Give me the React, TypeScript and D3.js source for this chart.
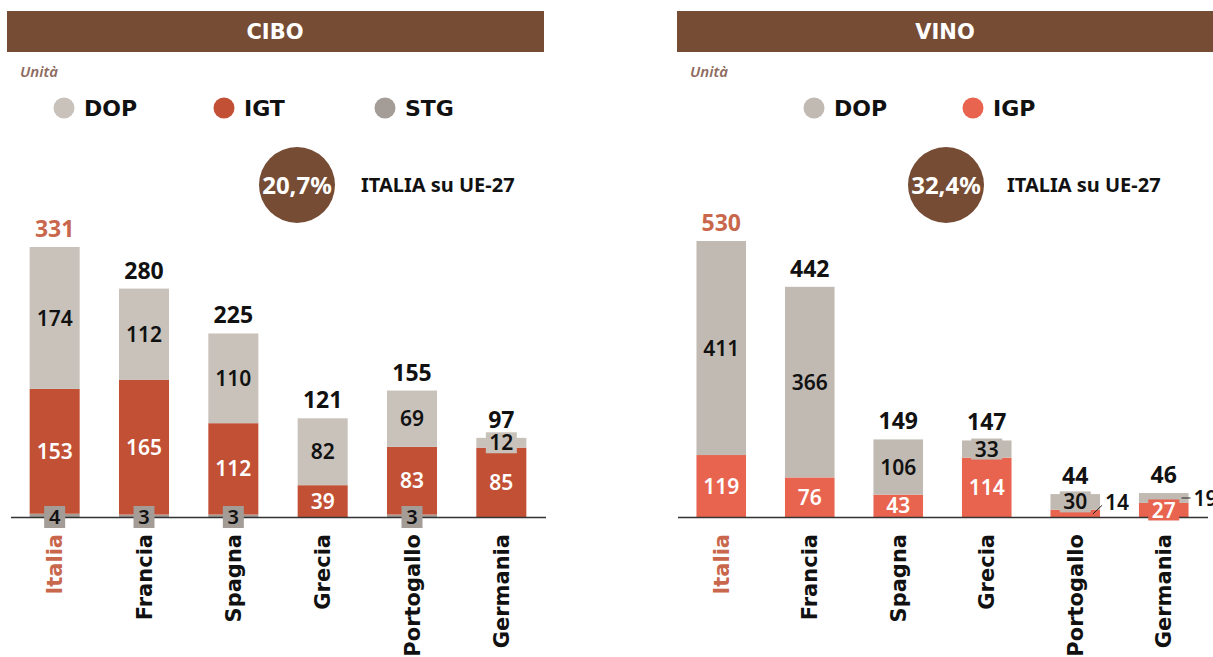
import React from "react";
import * as d3 from "d3";

// --- data ---
const countries = ["Italia", "Francia", "Spagna", "Grecia", "Portogallo", "Germania"];

const ciboStg = [4, 3, 3, 0, 3, 0];
const ciboIgt = [153, 165, 112, 39, 83, 85];
const ciboDop = [174, 112, 110, 82, 69, 12];

const vinoIgp = [119, 76, 43, 114, 14, 27];
const vinoDop = [411, 366, 106, 33, 30, 19];

const ciboShare = "20,7%";
const vinoShare = "32,4%";

// labels drawn outside the bar (vino)
const vinoOutside = [
  { country: "Portogallo", key: "igp", leader: "diag" },
  { country: "Germania", key: "dop", leader: "flat" },
];

const BROWN = "#764C34";
const ITALY = "#C9674D";
const NUM = "'Noto Sans', sans-serif";
const WORD = "'DejaVu Sans', sans-serif";
const BASE = 517;

type Series = { key: string; label: string; color: string; text: string };

type PanelProps = {
  title: string;
  hx0: number;
  hx1: number;
  titleX: number;
  series: Series[];
  legendX: number[];
  values: Record<string, number[]>;
  xRange: [number, number];
  yTop: number;
  share: string;
  badgeX: number;
  badgeTextX: number;
  outside?: { country: string; key: string; leader: string }[];
};

function Panel(p: PanelProps) {
  const rows = countries.map((c, i) => {
    const r: any = { country: c };
    p.series.forEach((s) => (r[s.key] = p.values[s.key][i]));
    return r;
  });
  const keys = p.series.map((s) => s.key);
  const stacked = d3.stack<any>().keys(keys)(rows);
  const totals = rows.map((r) => d3.sum(keys, (k) => r[k]));
  const maxT = d3.max(totals) as number;

  const x = d3.scaleBand<string>().domain(countries).range(p.xRange).paddingInner(0.44).paddingOuter(0.22);
  const y = d3.scaleLinear().domain([0, maxT]).range([BASE, p.yTop]);
  const bw = x.bandwidth();
  const colorOf = (k: string) => p.series.find((s) => s.key === k)!.color;
  const textOf = (k: string) => p.series.find((s) => s.key === k)!.text;

  const labels: React.ReactNode[] = [];
  stacked.forEach((layer) => {
    layer.forEach((d, i) => {
      const v = d[1] - d[0];
      if (!v) return;
      const c = countries[i];
      const cx = (x(c) as number) + bw / 2;
      const cy = (y(d[0]) + y(d[1])) / 2;
      const k = layer.key;
      const id = `${k}-${i}`;
      const out = p.outside?.find((o) => o.country === c && o.key === k);
      if (k === "stg") {
        // tiny STG values: grey tag sitting on the axis
        labels.push(
          <g key={id}>
            <rect x={cx - 10.5} y={BASE - 11} width={21} height={22} fill={colorOf(k)} />
            <text x={cx} y={BASE} dy="0.36em" textAnchor="middle" fontFamily={NUM} fontWeight={600} fontSize={20} fill="#111">
              {v}
            </text>
          </g>
        );
      } else if (out) {
        const right = (x(c) as number) + bw;
        const diag = out.leader === "diag";
        const ty = diag ? cy - 11 : cy;
        labels.push(
          <g key={id}>
            <line x1={right - 7} y1={diag ? cy + 0.5 : cy} x2={right + 2} y2={diag ? cy - 8 : cy} stroke="#222" strokeWidth={1} />
            <text x={right + 5} y={ty} dy="0.36em" fontFamily={NUM} fontWeight={600} fontSize={21} fill="#111">
              {v}
            </text>
          </g>
        );
      } else {
        const h = y(d[0]) - y(d[1]);
        const w = String(v).length * 12 + 7;
        labels.push(
          <g key={id}>
            {h < 20 && <rect x={cx - w / 2} y={cy - 10.5} width={w} height={21} fill={colorOf(k)} />}
            <text x={cx} y={cy} dy="0.36em" textAnchor="middle" fontFamily={NUM} fontWeight={600} fontSize={21} fill={textOf(k)}>
              {v}
            </text>
          </g>
        );
      }
    });
  });

  return (
    <g>
      <rect x={p.hx0} y={11} width={p.hx1 - p.hx0} height={41} fill={BROWN} />
      <text x={p.titleX} y={31.5} dy="0.36em" textAnchor="middle" fontFamily={WORD} fontWeight={700} fontSize={21} fill="#fff">
        {p.title}
      </text>
      <text x={p.hx0 + 13} y={77} fontFamily={NUM} fontStyle="italic" fontWeight={600} fontSize={15} fill="#8E6B5E">
        Unità
      </text>

      {p.series.map((s, i) => (
        <g key={s.key} transform={`translate(${p.legendX[i]},108)`}>
          <circle r={10.5} fill={s.color} />
          <text x={20} dy="0.36em" fontFamily={WORD} fontWeight={700} fontSize={22} fill="#111">
            {s.label}
          </text>
        </g>
      ))}

      <circle cx={p.badgeX} cy={185} r={38} fill={BROWN} />
      <text x={p.badgeX} y={185} dy="0.36em" textAnchor="middle" fontFamily={NUM} fontWeight={700} fontSize={24} fill="#fff">
        {p.share}
      </text>
      <text x={p.badgeTextX} y={185} dy="0.36em" fontFamily={NUM} fontWeight={700} fontSize={20} fill="#111">
        ITALIA su UE-27
      </text>

      {stacked.map((layer) => (
        <g key={layer.key} fill={colorOf(layer.key)}>
          {layer.map((d, i) => (
            <rect key={i} x={x(countries[i])} y={y(d[1])} width={bw} height={y(d[0]) - y(d[1])} />
          ))}
        </g>
      ))}

      <line x1={p.xRange[0] + 1} x2={p.xRange[1]} y1={BASE + 0.5} y2={BASE + 0.5} stroke="#333" strokeWidth={1.5} />

      {labels}

      {countries.map((c, i) => (
        <text
          key={c}
          x={(x(c) as number) + bw / 2}
          y={y(totals[i]) - 10}
          textAnchor="middle"
          fontFamily={NUM}
          fontWeight={700}
          fontSize={23}
          fill={i === 0 ? ITALY : "#111"}
        >
          {totals[i]}
        </text>
      ))}

      {countries.map((c) => (
        <text
          key={c}
          transform={`translate(${(x(c) as number) + bw / 2},534) rotate(-90)`}
          dy="0.36em"
          textAnchor="end"
          fontFamily={WORD}
          fontWeight={700}
          fontSize={21}
          fill={c === "Italia" ? ITALY : "#111"}
        >
          {c}
        </text>
      ))}
    </g>
  );
}

export default function App() {
  return (
    <svg width={1213} height={657} style={{ position: "absolute", left: 0, top: 0, background: "#fff" }}>
      <Panel
        title="CIBO"
        hx0={7}
        hx1={544}
        titleX={275}
        series={[
          { key: "stg", label: "STG", color: "#A39C97", text: "#111" },
          { key: "igt", label: "IGT", color: "#C25034", text: "#fff" },
          { key: "dop", label: "DOP", color: "#C8C2BB", text: "#111" },
        ]}
        legendX={[385, 224, 64]}
        values={{ stg: ciboStg, igt: ciboIgt, dop: ciboDop }}
        xRange={[10, 546]}
        yTop={247}
        share={ciboShare}
        badgeX={297}
        badgeTextX={361}
      />
      <Panel
        title="VINO"
        hx0={677}
        hx1={1213}
        titleX={945}
        series={[
          { key: "igp", label: "IGP", color: "#E8644F", text: "#fff" },
          { key: "dop", label: "DOP", color: "#C1BAB3", text: "#111" },
        ]}
        legendX={[973, 814]}
        values={{ igp: vinoIgp, dop: vinoDop }}
        xRange={[677, 1208]}
        yTop={241}
        share={vinoShare}
        badgeX={946}
        badgeTextX={1007}
        outside={vinoOutside}
      />
    </svg>
  );
}
